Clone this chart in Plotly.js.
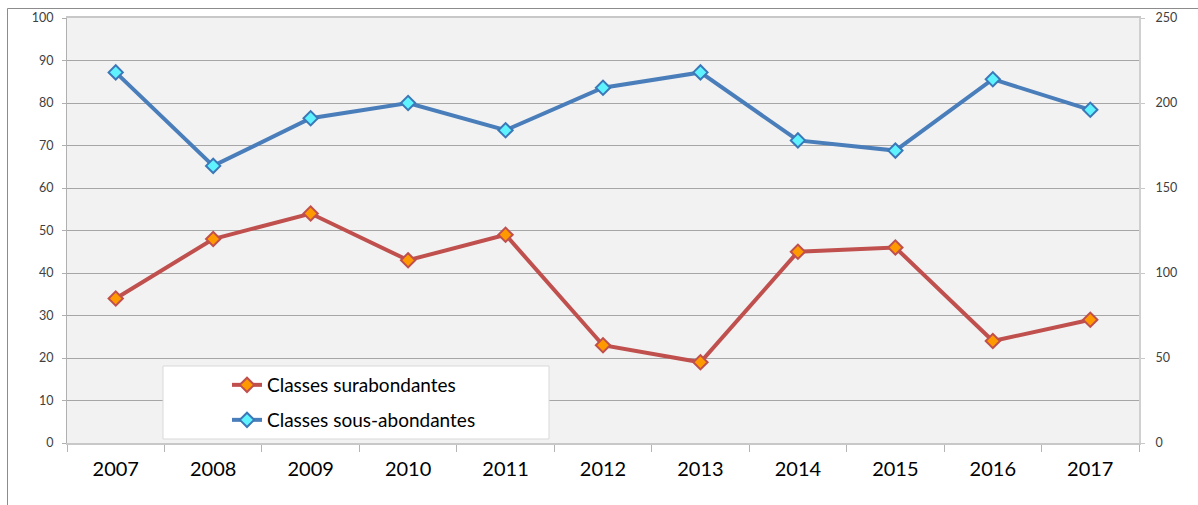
<!DOCTYPE html>
<html>
<head>
<meta charset="utf-8">
<script src="https://cdn.plot.ly/plotly-3.0.1.min.js"></script>
<style>html,body{margin:0;padding:0;background:#fff;}#chart{width:1198px;height:505px;}</style>
</head>
<body>
<div id="chart"></div>
<script>
const years = ["2007","2008","2009","2010","2011","2012","2013","2014","2015","2016","2017"];
const surabondantes = [34, 48, 54, 43, 49, 23, 19, 45, 46, 24, 29];
const sousAbondantes = [218, 163, 191, 200, 184, 209, 218, 178, 172, 214, 196];
const leftTicks = [0,10,20,30,40,50,60,70,80,90,100];
const rightTicks = [0,50,100,150,200,250];
const nameSur = "Classes surabondantes";
const nameSous = "Classes sous-abondantes";

const W = 1198, H = 505;
const M = {l: 67, r: 59, t: 18, b: 62};
const pw = W - M.l - M.r, ph = H - M.t - M.b;
const px = p => (p - M.l) / pw;
const py = p => (H - M.b - p) / ph;

const FONT = "Lato, 'Open Sans', sans-serif";

const traces = [
  {
    x: years, y: surabondantes, name: nameSur, type: 'scatter', mode: 'lines+markers',
    yaxis: 'y', legend: 'legend',
    line: {color: '#C0504D', width: 4},
    marker: {symbol: 'diamond', size: 11, color: '#FF9900', line: {color: '#C0504D', width: 2}},
    hoverinfo: 'x+y'
  },
  {
    x: years, y: sousAbondantes, name: nameSous, type: 'scatter', mode: 'lines+markers',
    yaxis: 'y2', legend: 'legend2',
    line: {color: '#4A7EBB', width: 4},
    marker: {symbol: 'diamond', size: 11, color: '#5FF3FF', line: {color: '#3C78B8', width: 2}},
    hoverinfo: 'x+y'
  }
];

const layout = {
  width: W, height: H,
  margin: M,
  paper_bgcolor: '#ffffff',
  plot_bgcolor: '#f2f2f2',
  font: {family: FONT, color: '#000'},
  showlegend: true,
  xaxis: {
    type: 'category', categoryorder: 'array', categoryarray: years,
    range: [-0.5, years.length - 0.5], autorange: false,
    tickvals: years, ticktext: years,
    showgrid: false, zeroline: false,
    showline: true, linecolor: '#c8c8c8', linewidth: 2, mirror: true,
    ticks: 'outside', tickson: 'boundaries', ticklen: 7, tickcolor: '#b4b4b4', tickwidth: 1,
    tickfont: {family: FONT, size: 20, color: '#000'},
    ticklabelstandoff: 7,
    fixedrange: true
  },
  yaxis: {
    range: [0, 100], autorange: false, tickvals: leftTicks, ticktext: leftTicks.map(String),
    showgrid: true, gridcolor: '#a6a6a6', gridwidth: 1, zeroline: false,
    showline: true, linecolor: '#b0b0b0', linewidth: 1,
    ticks: 'outside', ticklen: 4, tickcolor: '#b0b0b0',
    tickfont: {family: FONT, size: 12.5, color: '#404040'},
    ticklabelstandoff: 6,
    fixedrange: true
  },
  yaxis2: {
    range: [0, 250], autorange: false, tickvals: rightTicks, ticktext: rightTicks.map(String),
    overlaying: 'y', side: 'right',
    showgrid: false, zeroline: false,
    showline: true, linecolor: '#d0d0d0', linewidth: 2,
    ticks: 'outside', ticklen: 4, tickcolor: '#c8c8c8',
    tickfont: {family: FONT, size: 12.5, color: '#404040'},
    ticklabelstandoff: 8,
    fixedrange: true
  },
  legend: {
    x: px(227), xanchor: 'left', y: py(385), yanchor: 'middle',
    bgcolor: 'rgba(0,0,0,0)', borderwidth: 0,
    font: {family: FONT, size: 19, color: '#000'},
    itemclick: false, itemdoubleclick: false
  },
  legend2: {
    x: px(227), xanchor: 'left', y: py(420), yanchor: 'middle',
    bgcolor: 'rgba(0,0,0,0)', borderwidth: 0,
    font: {family: FONT, size: 19, color: '#000'},
    itemclick: false, itemdoubleclick: false
  },
  shapes: [
    {type: 'rect', xref: 'paper', yref: 'paper', layer: 'above',
     x0: px(163), x1: px(549), y0: py(439), y1: py(366),
     fillcolor: '#ffffff', line: {color: '#d9d9d9', width: 1}},
    {type: 'rect', xref: 'paper', yref: 'paper', layer: 'below',
     x0: px(7.5), x1: px(1215), y0: py(525), y1: py(8.5),
     fillcolor: 'rgba(0,0,0,0)', line: {color: '#8c8c8c', width: 1}}
  ]
};

Plotly.newPlot('chart', traces, layout, {displayModeBar: false, staticPlot: false});
</script>
</body>
</html>
